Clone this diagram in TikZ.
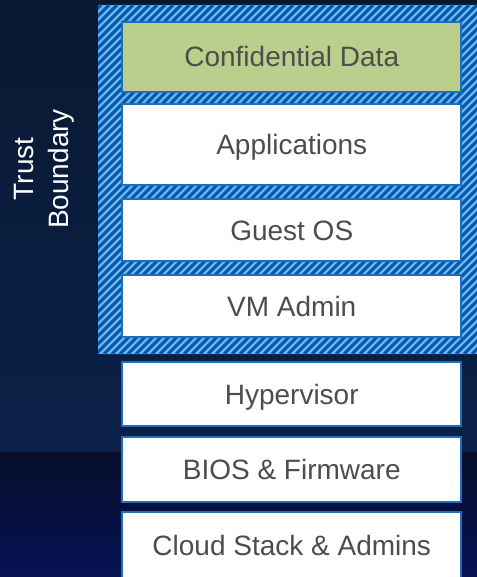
\documentclass[tikz,border=0pt]{standalone}
\usepackage{fontspec}
\setmainfont{Liberation Sans}
\usetikzlibrary{positioning}

\definecolor{bgtop}{RGB}{9,25,50}
\definecolor{bgmid}{RGB}{12,32,72}
\definecolor{bglow}{RGB}{6,14,42}
\definecolor{bgbot}{RGB}{6,18,84}
\definecolor{hatchlight}{RGB}{99,181,255}
\definecolor{hatchdark}{RGB}{10,88,155}
\definecolor{boxblue}{RGB}{28,110,192}
\definecolor{greenfill}{RGB}{185,207,139}
\definecolor{textgrey}{RGB}{77,77,77}

\begin{document}
\begin{tikzpicture}[x=0.75pt,y=0.75pt,yscale=-1,xscale=1,
    layerbox/.style={draw=boxblue, line width=1.5pt, fill=white, text=textgrey,
        minimum width=253.9pt, inner sep=0pt, text height=15pt, text depth=0pt,
        font=\fontsize{21}{24}\selectfont},
    sidelabel/.style={text=white, align=center, rotate=90, inner sep=0pt,
        font=\fontsize{21}{26}\selectfont}]
    \useasboundingbox (0,0) rectangle (477,577);

    %Background
    \shade [top color=bgtop, bottom color=bgmid] (0,0) rectangle (477,452);
    \shade [top color=bglow, bottom color=bgbot] (0,452) rectangle (477,577);

    %Shape: Hatched trust boundary
    \begin{scope}
      \clip (98,5) rectangle (477,354);
      \fill [hatchlight] (98,5) rectangle (477,354);
      \foreach \i in {-360,-352,...,480}
        \draw [hatchdark, line width=2.2pt] (\i,354) -- ++(349,-349);
    \end{scope}

    %Stack layers
    \node [layerbox, fill=greenfill, minimum height=52.5pt] (data) at (291.75,57) {Confidential Data};
    \node [layerbox, minimum height=60.75pt] (apps) at (291.75,144.5) {Applications};
    \node [layerbox, minimum height=46.5pt] (guest) at (291.75,230) {Guest OS};
    \node [layerbox, minimum height=46.5pt] (vmadmin) at (291.75,306) {VM Admin};
    \node [layerbox, minimum height=48pt] (hyper) at (291.75,394) {Hypervisor};
    \node [layerbox, minimum height=48.75pt] (bios) at (291.75,469.5) {BIOS \& Firmware};
    \node [layerbox, minimum height=49.5pt] (cloud) at (291.75,545) {Cloud Stack \& Admins};

    % Text Node
    \node [sidelabel] (trust) at (44,169) {Trust\\Boundary};

\end{tikzpicture}
\end{document}
